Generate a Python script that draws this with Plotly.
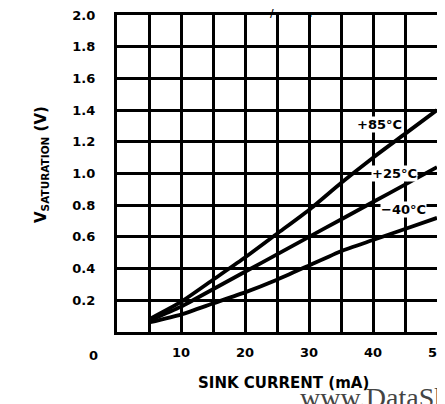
import plotly.graph_objects as go

# Data
sink_current = [5, 10, 15, 20, 25, 30, 35, 40, 45, 50]
v_sat_85 = [0.08, 0.19, 0.33, 0.47, 0.62, 0.77, 0.94, 1.10, 1.25, 1.40]
v_sat_25 = [0.07, 0.16, 0.27, 0.38, 0.49, 0.60, 0.71, 0.82, 0.93, 1.04]
v_sat_m40 = [0.06, 0.11, 0.18, 0.25, 0.33, 0.42, 0.51, 0.58, 0.65, 0.72]
series_names = ["+85°C", "+25°C", "−40°C"]
label_pos = [(41.0, 1.31), (43.3, 1.00), (44.7, 0.77)]

x_grid = [0, 5, 10, 15, 20, 25, 30, 35, 40, 45, 50]
x_ticktext = ["", "", "10", "", "20", "", "30", "", "40", "", "50"]
y_grid = [0.2, 0.4, 0.6, 0.8, 1.0, 1.2, 1.4, 1.6, 1.8, 2.0]
y_ticktext = ["0.2", "0.4", "0.6", "0.8", "1.0", "1.2", "1.4", "1.6", "1.8", "2.0"]

FONT = "DejaVu Sans, Liberation Sans, sans-serif"

# page body has an 8px default margin; compensate so plot lands where the reference has it
OFF = 8
L, R, T, B = 117, 437, 15, 332  # plot area in reference pixels
W, H = 445 - OFF, 404 - OFF
PW, PH = R - L, B - T


def px(xp):
    return (xp - L) / PW


def py(yp):
    return (B - yp) / PH


fig = go.Figure()
for name, ys in zip(series_names, [v_sat_85, v_sat_25, v_sat_m40]):
    fig.add_trace(go.Scatter(x=sink_current, y=ys, mode="lines", name=name,
                             line=dict(color="black", width=3.8, shape="spline", smoothing=0.5),
                             showlegend=False))

for name, (lx, ly) in zip(series_names, label_pos):
    fig.add_annotation(x=lx, y=ly, text="<b>" + name + "</b>", showarrow=False,
                       font=dict(family=FONT, size=13, color="black"),
                       bgcolor="white", borderpad=0)

# stray "0" x-label drawn left of the axis in the original
fig.add_annotation(xref="paper", yref="paper", x=px(93), y=py(355),
                   text="<b>0</b>", showarrow=False, xanchor="center", yanchor="middle",
                   font=dict(family=FONT, size=13, color="black"))

# y axis title
fig.add_annotation(xref="paper", yref="paper", x=px(42), y=py(165),
                   text="<b>V<sub>SATURATION</sub> (V)</b>", showarrow=False, textangle=-90,
                   xanchor="center", yanchor="middle",
                   font=dict(family=FONT, size=15, color="black"))

# x axis title
fig.add_annotation(xref="paper", yref="paper", x=px(283), y=py(383),
                   text="<b>SINK CURRENT (mA)</b>", showarrow=False, xanchor="center", yanchor="middle",
                   font=dict(family=FONT, size=15, color="black"))

# watermark (cut off at the right/bottom edge as in the reference)
fig.add_annotation(xref="paper", yref="paper", x=px(298), y=py(397),
                   text="www.DataSheet4U.com", showarrow=False, xanchor="left", yanchor="middle",
                   font=dict(family="Liberation Serif, DejaVu Serif, serif", size=28, color="#444444"))

# stray marks
fig.add_annotation(xref="paper", yref="paper", x=px(272), y=py(6),
                   text="<b>/</b>", showarrow=False, font=dict(family=FONT, size=10, color="black"))
fig.add_annotation(xref="paper", yref="paper", x=px(310), y=py(7),
                   text="<b>·</b>", showarrow=False, font=dict(family=FONT, size=12, color="black"))

fig.update_layout(
    width=W, height=H,
    margin=dict(l=L - OFF, r=W - (R - OFF), t=T - OFF, b=H - (B - OFF), autoexpand=False),
    paper_bgcolor="white", plot_bgcolor="white",
    font=dict(family=FONT, size=13, color="black"),
    xaxis=dict(range=[0, 50], tickvals=x_grid, ticktext=x_ticktext,
               showgrid=True, gridcolor="black", gridwidth=2.8,
               showline=True, linecolor="black", linewidth=3.2, mirror=True,
               ticks="", zeroline=False, tickfont=dict(family=FONT, size=13, weight="bold"),
               ticklabelstandoff=6, automargin=False, ticklabeloverflow="allow"),
    yaxis=dict(range=[0, 2.0], tickvals=y_grid, ticktext=y_ticktext,
               showgrid=True, gridcolor="black", gridwidth=2.8,
               showline=True, linecolor="black", linewidth=3.2, mirror=True,
               ticks="", zeroline=False, tickfont=dict(family=FONT, size=13, weight="bold"),
               ticklabelstandoff=16, automargin=False, ticklabeloverflow="allow"),
)

fig.write_html("out.html")
